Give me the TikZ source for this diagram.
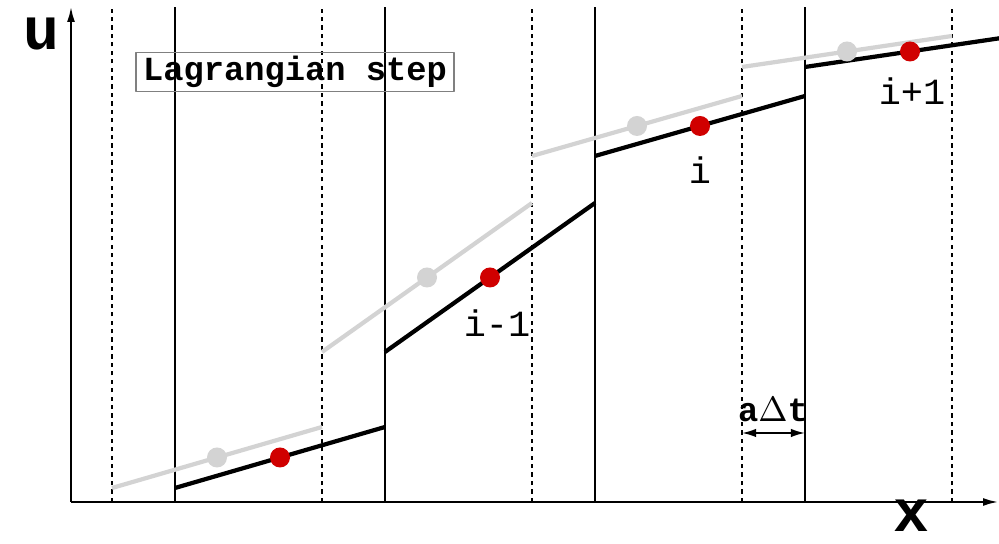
\documentclass[tikz,border=0pt]{standalone}
\usepackage{fontspec}
\setmonofont{Liberation Mono}
\usetikzlibrary{arrows.meta}
\definecolor{dotred}{RGB}{208,0,0}
\definecolor{oldgray}{RGB}{211,211,211}

\begin{document}
\begin{tikzpicture}[line join=round,
  cellline/.style={line width=0.35pt},
  shiftline/.style={line width=0.35pt, dash pattern=on 1.2pt off 1.2pt},
  newseg/.style={line width=1.2pt},
  oldseg/.style={oldgray, line width=1.2pt},
  axis/.style={line width=0.7pt, -{Latex[length=4.5pt, width=2.2pt]}},
  cellname/.style={font=\ttfamily\fontsize{10.5}{12}\selectfont},
  axisname/.style={anchor=base, inner sep=0pt, text depth=0pt, text height=9pt,
    font=\ttfamily\bfseries\fontsize{17}{20}\selectfont}]
\useasboundingbox (0,0) rectangle (9.99,5.44);
\clip (0,0) rectangle (9.99,5.44);
\coordinate (O) at (0.71,0.42);
\coordinate (U) at (0.71,5.38);
\coordinate (X) at (9.99,0.42);
% cell edges and shifted edges
\foreach \x in {1.75,3.85,5.95,8.05}
  \draw[cellline] (\x,0.42) -- (\x,5.37);
\foreach \x in {1.12,3.22,5.32,7.42,9.52}
  \draw[shiftline] (\x,0.42) -- (\x,5.37);
% old (grey) and new (black) profiles
\foreach \xl/\yl/\yr in {1.75/0.56/1.17, 3.85/1.92/3.41, 5.95/3.88/4.48, 8.05/4.77/5.08}{
  \draw[oldseg] (\xl-0.63,\yl) -- (\xl+1.47,\yr);
  \draw[newseg] (\xl,\yl) -- (\xl+2.1,\yr);
  \fill[oldgray] (\xl+0.42,{(\yl+\yr)/2}) circle (0.1);
  \fill[dotred] (\xl+1.05,{(\yl+\yr)/2}) circle (0.1);
}
\draw[axis] (O) -- (U);
\draw[axis] (O) -- (X);
\node[axisname] (ulbl) at (0.41,4.94) {u};
\node[axisname] (xlbl) at (9.11,0.12) {x};
\node[cellname] (im) at (4.97,2.21) {i-1};
\node[cellname] (i) at (7.00,3.74) {i};
\node[cellname] (ip) at (9.12,4.53) {i+1};
\node[draw=gray, line width=0.4pt, inner xsep=2pt, inner ysep=1pt, minimum height=0.35cm,
  font=\ttfamily\bfseries\fontsize{9.6}{11}\selectfont] (step) at (2.95,4.72) {Lagrangian step};
% advection distance
\coordinate (dl) at (7.42,1.11);
\coordinate (dr) at (8.05,1.11);
\draw[line width=0.5pt, {Latex[length=4pt, width=2.4pt]}-{Latex[length=4pt, width=2.4pt]}] (dl) -- (dr);
\node[font=\ttfamily\bfseries\fontsize{9.6}{11}\selectfont] (adt) at (7.73,1.34) {a$\Delta$t};
\end{tikzpicture}
\end{document}
